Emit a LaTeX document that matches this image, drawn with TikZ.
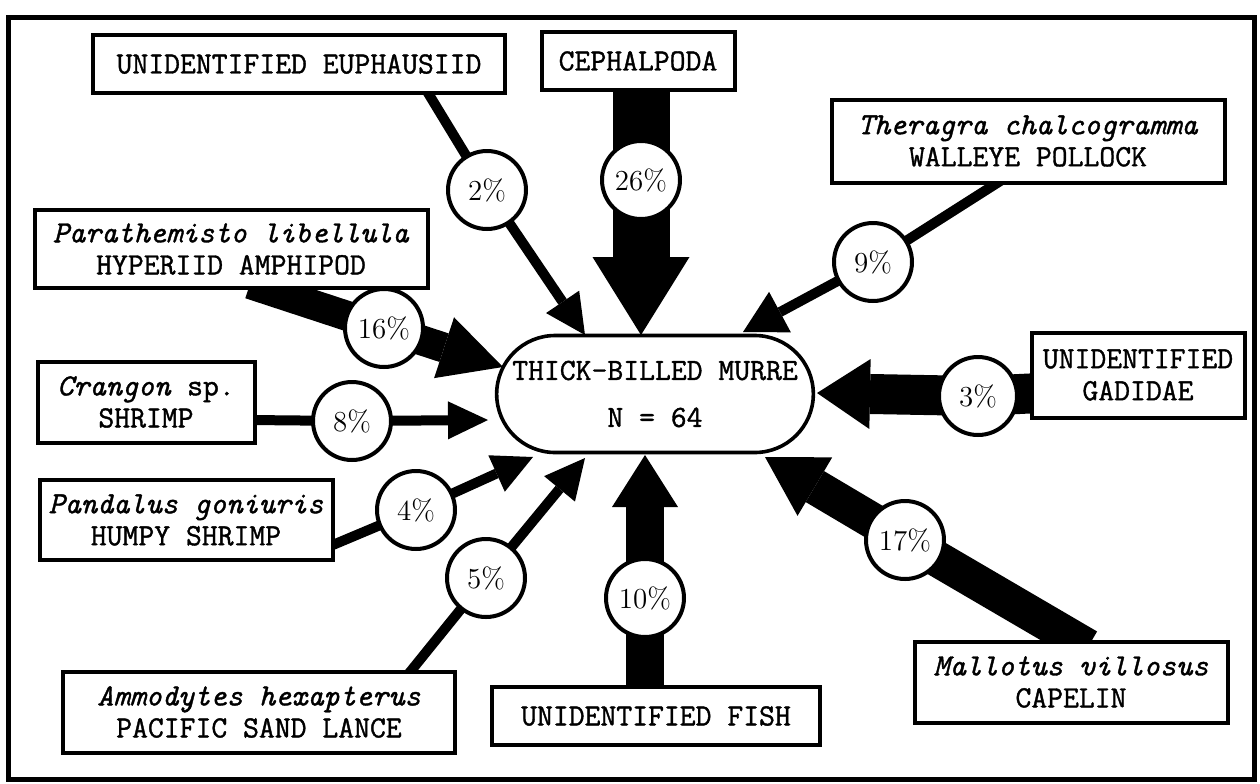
\documentclass[tikz,border=0pt]{standalone}
\usepackage{fontspec}
\setmonofont{Latin Modern Mono}[FakeBold=1.2]
\usetikzlibrary{arrows.meta,shapes.misc,backgrounds}

\tikzset{
    flow/.style n args={3}{
        line width=#1,
        -{Triangle[width=#2, length=#3, line width=0pt]}
    }
}

\begin{document}
\begin{tikzpicture}[
    x=0.5pt,
    y=-0.5pt
]


\tikzstyle{prey}=[
    draw,
    fill=white,
    line width=2pt,
    inner sep=0pt,
    align=center,
    font=\fontsize{15.4}{16}\selectfont\ttfamily
]
\tikzstyle{share}=[
    circle,
    draw,
    fill=white,
    line width=2pt,
    minimum size=39pt,
    inner sep=0pt,
    font=\fontsize{14.5}{15}\selectfont
]
\tikzstyle{bird}=[
    rounded rectangle,
    draw,
    fill=white,
    line width=1.8pt,
    minimum width=165pt,
    minimum height=58.5pt,
    align=center,
    font=\fontsize{15.4}{16}\selectfont\ttfamily
]

\useasboundingbox (0,0) rectangle (1260,783);
\draw[line width=2.5pt] (8,17) rectangle (1254,779);


% the predator
\node[bird] (murre) at (655,394) {THICK-BILLED MURRE\\[7.5pt] N = 64};


% prey boxes
\node[prey, minimum width=206pt, minimum height=29pt] (euph) at (299,64)
    {UNIDENTIFIED EUPHAUSIID};
\node[prey, minimum width=96.5pt, minimum height=29pt] (ceph) at (638,61)
    {CEPHALPODA};
\node[prey, minimum width=196.5pt, minimum height=41.5pt] (pollock) at (1028,141)
    {\textit{Theragra chalcogramma}\\WALLEYE POLLOCK};
\node[prey, minimum width=196.5pt, minimum height=39pt] (amphi) at (231,249)
    {\textit{Parathemisto libellula}\\HYPERIID AMPHIPOD};
\node[prey, minimum width=108.5pt, minimum height=40.5pt] (crangon) at (146,402)
    {\textit{Crangon} sp.\\SHRIMP};
\node[prey, minimum width=146.5pt, minimum height=40pt] (humpy) at (186,520)
    {\textit{Pandalus goniuris}\\HUMPY SHRIMP};
\node[prey, minimum width=196pt, minimum height=40.5pt] (lance) at (259,712)
    {\textit{Ammodytes hexapterus}\\PACIFIC SAND LANCE};
\node[prey, minimum width=164pt, minimum height=29pt] (fish) at (656,716)
    {UNIDENTIFIED FISH};
\node[prey, minimum width=156.5pt, minimum height=40.5pt] (capelin) at (1071,682)
    {\textit{Mallotus villosus}\\CAPELIN};
\node[prey, minimum width=106.5pt, minimum height=42.5pt] (gadid) at (1138,375)
    {UNIDENTIFIED\\GADIDAE};


% percentages
\node[share] (p2) at (487,190) {2\%};
\node[share] (p26) at (641,180) {26\%};
\node[share] (p9) at (873,262) {9\%};
\node[share] (p16) at (384,328) {16\%};
\node[share] (p8) at (352,421) {8\%};
\node[share] (p4) at (416,510) {4\%};
\node[share] (p5) at (486,578) {5\%};
\node[share] (p10) at (645,598) {10\%};
\node[share] (p17) at (905,540) {17\%};
\node[share] (p3) at (978,396) {3\%};


% where the shafts leave the boxes
\coordinate (s2) at (425,88);
\coordinate (s26) at (641,85);
\coordinate (s9) at (1005,178);
\coordinate (s16) at (250,284);
\coordinate (s8) at (250,420);
\coordinate (s4) at (328,547);
\coordinate (s5) at (406,677);
\coordinate (s10) at (645,695);
\coordinate (s17) at (1088,647);
\coordinate (s3) at (1040,393);

% tips on the murre
\coordinate (t2) at (585,335);
\coordinate (t26) at (641,335);
\coordinate (t9) at (743,332);
\coordinate (t16) at (503,367);
\coordinate (t8) at (488,420);
\coordinate (t4) at (533,457);
\coordinate (t5) at (585,458);
\coordinate (t10) at (645,455);
\coordinate (t17) at (765,457);
\coordinate (t3) at (817,393);


\begin{scope}[on background layer]
\draw[flow={5pt}{20pt}{20pt}] (s2) -- (p2.center) -- (t2);
\draw[flow={28.5pt}{48.5pt}{39pt}] (s26) -- (p26.center) -- (t26);
\draw[flow={5pt}{23pt}{21pt}] (s9) -- (p9.center) -- (t9);
\draw[flow={15pt}{32pt}{31pt}] (s16) -- (p16.center) -- (t16);
\draw[flow={5pt}{19pt}{20pt}] (s8) -- (p8.center) -- (t8);
\draw[flow={5pt}{20pt}{20pt}] (s4) -- (p4.center) -- (t4);
\draw[flow={5pt}{20pt}{20pt}] (s5) -- (p5.center) -- (t5);
\draw[flow={19pt}{33pt}{26pt}] (s10) -- (p10.center) -- (t10);
\draw[flow={18pt}{34pt}{29pt}] (s17) -- (p17.center) -- (t17);
\draw[flow={20pt}{35pt}{26.5pt}] (s3) -- (p3.center) -- (t3);
\end{scope}

\end{tikzpicture}
\end{document}
